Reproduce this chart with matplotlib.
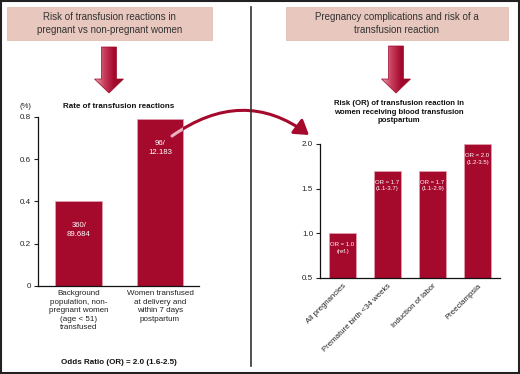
import numpy as np
import matplotlib
matplotlib.use('Agg')
import matplotlib.pyplot as plt
from matplotlib.patches import Rectangle, Polygon, FancyArrowPatch
from matplotlib.path import Path
from matplotlib.colors import LinearSegmentedColormap

plt.rcParams['font.family'] = ['Liberation Sans', 'DejaVu Sans']

# left panel: rate of transfusion reactions (%)
rate_labels = ['Background\npopulation, non-\npregnant women\n(age < 51)\ntransfused',
               'Women transfused\nat delivery and\nwithin 7 days\npostpartum']
rate_values = [0.40, 0.79]
rate_counts = ['360/\n89.684', '96/\n12.183']
rate_ticks = [0, 0.2, 0.4, 0.6, 0.8]
rate_ticklabels = ['0', '0.2', '0.4', '0.6', '0.8']

# right panel: odds ratio by complication
comp_labels = ['All pregnancies', 'Premature birth <34 weeks', 'Induction of labor', 'Preeclampsia']
comp_or = [1.0, 1.7, 1.7, 2.0]
comp_text = ['OR = 1.0\n(ref.)', 'OR = 1.7\n(1.1-3.7)', 'OR = 1.7\n(1.1-2.9)', 'OR = 2.0\n(1.2-3.5)']
comp_ticks = [0.5, 1.0, 1.5, 2.0]

bar_color = '#a50a2d'
edge_color = '#e3a3b1'
W, H = 520, 374
fig = plt.figure(figsize=(W / 100, H / 100), dpi=100)


def box(x0, y0, x1, y1):
    # pixel box (top-left origin) -> figure fraction rect
    return [x0 / W, 1 - y1 / H, (x1 - x0) / W, (y1 - y0) / H]


def style_axis(ax):
    for s in ['top', 'right']:
        ax.spines[s].set_visible(False)
    for s in ['left', 'bottom']:
        ax.spines[s].set_linewidth(0.9)
        ax.spines[s].set_color('#111111')


# left chart
ax1 = fig.add_axes(box(38, 117, 199, 286))
bars1 = ax1.bar(range(len(rate_values)), rate_values, width=0.57,
                color=bar_color, edgecolor=edge_color, linewidth=0.5)
ax1.set_xlim(-0.5, 1.48)
ax1.set_ylim(0, 0.8)
ax1.set_yticks(rate_ticks)
ax1.set_yticklabels(rate_ticklabels)
ax1.set_xticks(range(len(rate_labels)))
ax1.set_xticklabels(rate_labels, fontsize=5.8, linespacing=1.3, color='#222222')
ax1.tick_params(axis='x', length=0, pad=3)
ax1.tick_params(axis='y', length=3, width=0.8, labelsize=5.8, pad=2, colors='#222222')
style_axis(ax1)
for i, (v, t) in enumerate(zip(rate_values, rate_counts)):
    ax1.annotate(t, (i, v), xytext=(0, -21), textcoords='offset pixels',
                 ha='center', va='top', color='white', fontsize=5.6, linespacing=1.3)

fig.text(25 / W, 1 - 106 / H, '(%)', ha='center', va='center', fontsize=5.6, color='#222222')
fig.text(119 / W, 1 - 106 / H, 'Rate of transfusion reactions', ha='center', va='center',
         fontsize=5.8, fontweight='bold', color='#111111')
fig.text(119 / W, 1 - 362 / H, 'Odds Ratio (OR) = 2.0 (1.6-2.5)', ha='center', va='center',
         fontsize=5.8, fontweight='bold', color='#111111')

# right chart
ax2 = fig.add_axes(box(320, 144, 500, 278))
bars2 = ax2.bar(range(len(comp_or)), comp_or, width=0.58, bottom=0,
                color=bar_color, edgecolor=edge_color, linewidth=0.5)
ax2.set_xlim(-0.5, 3.5)
ax2.set_ylim(0.5, 2.0)
ax2.set_yticks(comp_ticks)
ax2.set_yticklabels(['%.1f' % t for t in comp_ticks])
ax2.set_xticks(range(len(comp_labels)))
ax2.set_xticklabels(comp_labels, fontsize=5.6, rotation=45, ha='right',
                    rotation_mode='anchor', color='#222222')
ax2.tick_params(axis='x', length=0, pad=3)
ax2.tick_params(axis='y', length=3, width=0.8, labelsize=5.8, pad=2, colors='#222222')
style_axis(ax2)
for i, (v, t) in enumerate(zip(comp_or, comp_text)):
    ax2.annotate(t, (i, v), xytext=(0, -9), textcoords='offset pixels',
                 ha='center', va='top', color='white', fontsize=4.3, linespacing=1.4)

fig.text(399 / W, 1 - 112 / H,
         'Risk (OR) of transfusion reaction in\nwomen receiving blood transfusion\npostpartum',
         ha='center', va='center', fontsize=5.6, fontweight='bold', color='#111111',
         linespacing=1.25)

# overlay for frame, headers and arrows
ov = fig.add_axes([0, 0, 1, 1], zorder=5)
ov.patch.set_alpha(0)
ov.axis('off')

ov.add_patch(Rectangle((1, 1), W - 2.5, H - 2.5, fill=False, lw=1.5, ec='#222222'))
ov.plot([251, 251], [7, 366], color='#333333', lw=1.2)

for (x0, x1, txt) in [(7, 212, 'Risk of transfusion reactions in\npregnant vs non-pregnant women'),
                      (286, 508, 'Pregnancy complications and risk of a\ntransfusion reaction')]:
    ov.add_patch(Rectangle((x0, 7), x1 - x0, 33, fc='#e8c8be', ec='#dcb7ac', lw=0.5))
    ov.text((x0 + x1) / 2, 23.5, txt, ha='center', va='center', fontsize=7,
            color='#333333', linespacing=1.45)

grad_cmap = LinearSegmentedColormap.from_list('g', ['#e9a7b5', '#c9405f', '#a50a2d', '#8e0826'])
grad = np.tile(np.linspace(0, 1, 60), (10, 1))
for cx, top, tip in [(109, 47, 93), (396, 46, 93)]:
    pts = [(cx - 7.5, top), (cx + 7.5, top), (cx + 7.5, tip - 14), (cx + 14.5, tip - 14),
           (cx, tip), (cx - 14.5, tip - 14), (cx - 7.5, tip - 14)]
    poly = Polygon(pts, closed=True, fc='none', ec='#9a0a28', lw=0.5, zorder=3)
    ov.add_patch(poly)
    im = ov.imshow(grad, extent=(cx - 15, cx + 15, tip, top), cmap=grad_cmap,
                   aspect='auto', zorder=2, interpolation='bilinear')
    im.set_clip_path(poly)

curve = Path([(172, 136), (243, 86), (309, 135)], [Path.MOVETO, Path.CURVE3, Path.CURVE3])
arc = FancyArrowPatch(path=curve, arrowstyle='-|>,head_length=0.7,head_width=0.45',
                      mutation_scale=12, lw=2.2, color=bar_color, shrinkA=0, shrinkB=0)
ov.add_patch(arc)
arc_light = FancyArrowPatch(path=curve, arrowstyle='-',
                            mutation_scale=12, lw=2.2, color='#eab2bf', shrinkA=0, shrinkB=0)
ov.add_patch(arc_light)
arc_light.set_clip_path(bars1[1])

ov.set_xlim(0, W)
ov.set_ylim(H, 0)

fig.savefig('out.png', dpi=100)
